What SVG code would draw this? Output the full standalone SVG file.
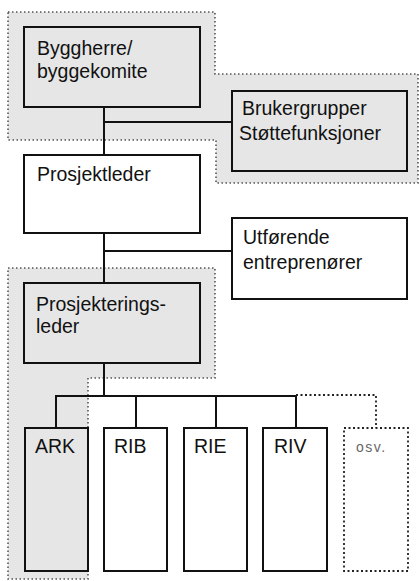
<svg xmlns="http://www.w3.org/2000/svg" width="420" height="581" viewBox="0 0 420 581">
<style>
.region{fill:#e6e6e6;stroke:#555;stroke-width:1.6;stroke-dasharray:1.5 2.5}
.box{stroke:#111;stroke-width:2;fill:#fff}
.g{fill:#e6e6e6}
.dot{fill:#fff;stroke:#222;stroke-width:1.8;stroke-dasharray:2 2.5}
.lbl{font-family:"Liberation Sans",Arial,sans-serif;font-size:19.5px;fill:#111}
.conn{stroke:#111;stroke-width:2;fill:none}
.dconn{stroke:#222;stroke-width:1.8;stroke-dasharray:2 2.5;fill:none}
</style>
<rect width="420" height="581" fill="#fff"/>
<g id="regions">
<polygon class="region" points="8,12 215,12 215,74 418,74 418,183 216,183 216,140 8,140"/>
<polygon class="region" points="8,268 215,268 215,378 88,378 88,579 8,579"/>
</g>
<g id="connectors">
<path class="conn" d="M104,107 V155 M104,122 H232"/>
<path class="conn" d="M104,233 V283 M104,251 H232"/>
<path class="conn" d="M104,363 V396 M56,428 V396 H296 V428 M136,396 V428 M216,396 V428"/>
<path class="dconn" d="M296,395 H376 V428"/>
</g>
<g id="byggherre">
<rect class="box g" x="24" y="27" width="176" height="80"/>
<text class="lbl" x="37" y="55">Byggherre/</text>
<text class="lbl" x="37" y="78">byggekomite</text>
</g>
<g id="brukergrupper">
<rect class="box g" x="232" y="91" width="175" height="80"/>
<text class="lbl" x="242" y="115">Brukergrupper</text>
<text class="lbl" x="239" y="140">Støttefunksjoner</text>
</g>
<g id="prosjektleder">
<rect class="box" x="24" y="155" width="176" height="78"/>
<text class="lbl" x="37" y="181">Prosjektleder</text>
</g>
<g id="utforende">
<rect class="box" x="232" y="218" width="175" height="81"/>
<text class="lbl" x="243" y="244">Utførende</text>
<text class="lbl" x="243" y="269">entreprenører</text>
</g>
<g id="prosjekteringsleder">
<rect class="box g" x="24" y="283" width="176" height="80"/>
<text class="lbl" x="36" y="311">Prosjekterings-</text>
<text class="lbl" x="36" y="333">leder</text>
</g>
<g id="ark">
<rect class="box g" x="25" y="428" width="63" height="143"/>
<text class="lbl" x="35" y="453">ARK</text>
</g>
<g id="rib">
<rect class="box" x="104" y="428" width="63" height="143"/>
<text class="lbl" x="114" y="453">RIB</text>
</g>
<g id="rie">
<rect class="box" x="184" y="428" width="63" height="143"/>
<text class="lbl" x="194" y="453">RIE</text>
</g>
<g id="riv">
<rect class="box" x="263" y="428" width="64" height="143"/>
<text class="lbl" x="274" y="453">RIV</text>
</g>
<g id="osv">
<rect class="dot" x="344" y="428" width="64" height="143"/>
<text class="lbl" x="356" y="452" style="font-size:14px;letter-spacing:1.5px;fill:#666">osv.</text>
</g>
</svg>
